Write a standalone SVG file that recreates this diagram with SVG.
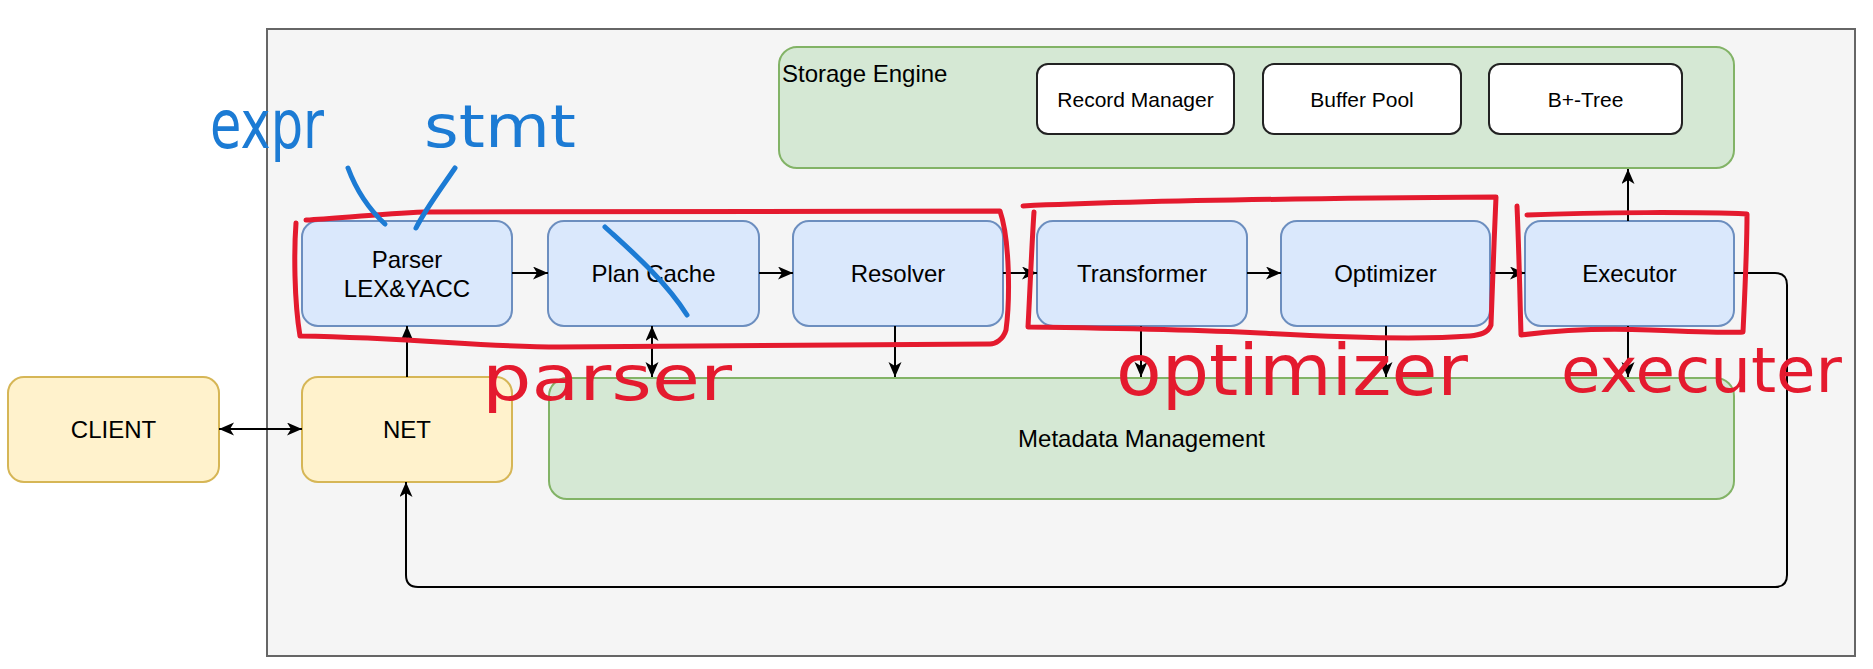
<svg xmlns="http://www.w3.org/2000/svg" width="1873" height="669" viewBox="0 0 1873 669">
<defs>
<marker id="arr" markerUnits="userSpaceOnUse" markerWidth="16" markerHeight="14" refX="15" refY="6.5" orient="auto-start-reverse" viewBox="0 0 16 14">
<path d="M0,0 L15,6.5 L0,13 L4,6.5 Z" fill="#000"/>
</marker>
</defs>
<style>
.lbl{font-family:"Liberation Sans",Arial,sans-serif;font-size:24px;fill:#000;text-anchor:middle}
.sm{font-size:21px}
.blue rect{fill:#dae8fc;stroke:#6c8ebf;stroke-width:2}
.yel rect{fill:#fff2cc;stroke:#d6b656;stroke-width:2}
.grn rect{fill:#d5e8d4;stroke:#82b366;stroke-width:2}
.wht rect{fill:#fff;stroke:#222;stroke-width:2}
.conn path{fill:none;stroke:#000;stroke-width:2}
.red{fill:none;stroke:#e41a2e;stroke-width:5;stroke-linecap:round;stroke-linejoin:round}
.bl{fill:none;stroke:#1c7bd4;stroke-width:5;stroke-linecap:round}
.hw{font-family:"DejaVu Sans",sans-serif;font-weight:normal}
.hwr{fill:#e41a2e}
.hwb{fill:#1c7bd4}
</style>
<rect width="1873" height="669" fill="#fff"/>
<g id="container"><rect x="267" y="29" width="1588" height="627" fill="#f5f5f5" stroke="#666" stroke-width="2"/></g>

<g id="storage-engine" class="grn"><rect x="779" y="47" width="955" height="121" rx="18"/>
<text class="lbl" x="782" y="82" style="text-anchor:start">Storage Engine</text></g>
<g id="record-manager" class="wht"><rect x="1037" y="64" width="197" height="70" rx="11"/><text class="lbl sm" x="1135.5" y="107">Record Manager</text></g>
<g id="buffer-pool" class="wht"><rect x="1263" y="64" width="198" height="70" rx="11"/><text class="lbl sm" x="1362" y="107">Buffer Pool</text></g>
<g id="bplus-tree" class="wht"><rect x="1489" y="64" width="193" height="70" rx="11"/><text class="lbl sm" x="1585.5" y="107">B+-Tree</text></g>

<g id="parser" class="blue"><rect x="302" y="221" width="210" height="105" rx="16"/><text class="lbl" x="407" y="268">Parser</text><text class="lbl" x="407" y="297">LEX&amp;YACC</text></g>
<g id="plan-cache" class="blue"><rect x="548" y="221" width="211" height="105" rx="16"/><text class="lbl" x="653.5" y="282">Plan Cache</text></g>
<g id="resolver" class="blue"><rect x="793" y="221" width="210" height="105" rx="16"/><text class="lbl" x="898" y="282">Resolver</text></g>
<g id="transformer" class="blue"><rect x="1037" y="221" width="210" height="105" rx="16"/><text class="lbl" x="1142" y="282">Transformer</text></g>
<g id="optimizer" class="blue"><rect x="1281" y="221" width="209" height="105" rx="16"/><text class="lbl" x="1385.5" y="282">Optimizer</text></g>
<g id="executor" class="blue"><rect x="1525" y="221" width="209" height="105" rx="16"/><text class="lbl" x="1629.5" y="282">Executor</text></g>

<g id="client" class="yel"><rect x="8" y="377" width="211" height="105" rx="16"/><text class="lbl" x="113.5" y="438">CLIENT</text></g>
<g id="net" class="yel"><rect x="302" y="377" width="210" height="105" rx="16"/><text class="lbl" x="407" y="438">NET</text></g>
<g id="metadata" class="grn"><rect x="549" y="378" width="1185" height="121" rx="18"/><text class="lbl" x="1141.5" y="447">Metadata Management</text></g>

<g id="connectors" class="conn">
<path d="M219 429 H302" marker-start="url(#arr)" marker-end="url(#arr)"/>
<path d="M407 377 V326" marker-end="url(#arr)"/>
<path d="M512 273 H548" marker-end="url(#arr)"/>
<path d="M759 273 H793" marker-end="url(#arr)"/>
<path d="M1003 273 H1037" marker-end="url(#arr)"/>
<path d="M1247 273 H1281" marker-end="url(#arr)"/>
<path d="M1490 273 H1525" marker-end="url(#arr)"/>
<path d="M652 326 V377" marker-start="url(#arr)" marker-end="url(#arr)"/>
<path d="M895 326 V377" marker-end="url(#arr)"/>
<path d="M1141 326 V377" marker-end="url(#arr)"/>
<path d="M1386 326 V377" marker-end="url(#arr)"/>
<path d="M1628 326 V377" marker-end="url(#arr)"/>
<path d="M1628 221 V169" marker-end="url(#arr)"/>
<path d="M1734 273 H1775 Q1787 273 1787 285 V575 Q1787 587 1775 587 H418 Q406 587 406 575 V482" marker-end="url(#arr)"/>
</g>

<g id="annotations">
<path class="red" d="M306 220 C340 218 380 214 424 212 L1000 211 C1010 240 1010 300 1006 330 C1003 340 995 344 990 344 L560 347 C480 347 420 338 300 336 C294 300 294 250 296 223"/>
<path class="red" d="M1023 206 C1150 200 1350 198 1496 197 C1494 240 1492 300 1491 325 C1488 333 1480 335 1470 336 C1420 340 1350 338 1260 333 C1200 330 1100 328 1028 327 C1030 290 1032 240 1034 212"/>
<path class="red" d="M1517 206 C1519 250 1520 300 1521 335 C1560 330 1600 328 1650 330 C1700 332 1730 333 1743 332 C1745 290 1747 250 1747 214 C1700 212 1600 212 1527 215"/>
<path class="bl" d="M348 168 C358 195 372 212 385 224"/>
<path class="bl" d="M455 168 C440 190 425 210 416 228"/>
<path class="bl" d="M605 227 C630 250 665 280 687 315"/>
<text class="hw hwb" x="210" y="148" font-size="68" textLength="114" lengthAdjust="spacingAndGlyphs">expr</text>
<text class="hw hwb" x="424" y="147" font-size="58" textLength="152" lengthAdjust="spacingAndGlyphs">stmt</text>
<text class="hw hwr" x="482" y="400" font-size="62" textLength="250" lengthAdjust="spacingAndGlyphs">parser</text>
<text class="hw hwr" x="1116" y="395" font-size="72" textLength="352" lengthAdjust="spacingAndGlyphs">optimizer</text>
<text class="hw hwr" x="1561" y="392" font-size="62" textLength="281" lengthAdjust="spacingAndGlyphs">executer</text>
</g>
</svg>
